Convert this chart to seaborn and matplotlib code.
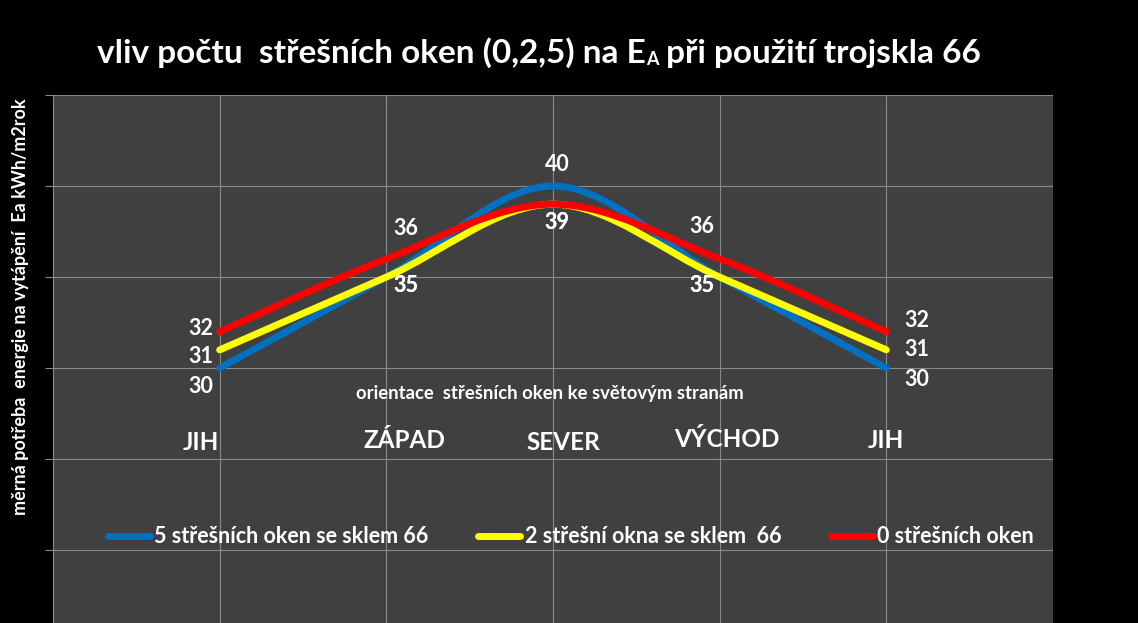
import numpy as np
import pandas as pd
import seaborn as sns
import matplotlib.pyplot as plt
from matplotlib.path import Path
from matplotlib.patches import PathPatch
from matplotlib.lines import Line2D

# data
categories = ["JIH", "ZÁPAD", "SEVER", "VÝCHOD", "JIH"]
okna5 = [30, 35, 40, 35, 30]
okna2 = [31, 35, 39, 35, 31]
okna0 = [32, 36, 39, 36, 32]
series_names = ["5 střešních oken se sklem 66", "2 střešní okna se sklem  66", "0 střešních oken"]

colors = ["#0070C0", "#FFFF00", "#FF0000"]

sns.set_theme(style="dark", rc={"axes.facecolor": "#404040", "figure.facecolor": "black",
                                "grid.color": "#8a8a8a", "grid.linewidth": 0.8})
plt.rcParams["font.family"] = ["Lato", "DejaVu Sans"]
plt.rcParams["font.weight"] = "bold"

df = pd.DataFrame({"pos": np.arange(1, 6), "kat": categories,
                   series_names[0]: okna5, series_names[1]: okna2, series_names[2]: okna0})

fig = plt.figure(figsize=(11.38, 6.23), dpi=100)
ax = fig.add_axes([53 / 1138, 0, 1000 / 1138, 528 / 623])


def smooth_path(xs, ys):
    # excel-like smoothed line: catmull-rom turned into cubic bezier segments
    pts = np.column_stack([xs, ys]).astype(float)
    ext = np.vstack([pts[0], pts, pts[-1]])
    verts = [pts[0]]
    codes = [Path.MOVETO]
    for i in range(len(pts) - 1):
        p0, p1, p2, p3 = ext[i], ext[i + 1], ext[i + 2], ext[i + 3]
        verts += [p1 + (p2 - p0) / 6, p2 - (p3 - p1) / 6, p2]
        codes += [Path.CURVE4] * 3
    return Path(verts, codes)


for name, col in zip(series_names, colors):
    patch = PathPatch(smooth_path(df["pos"], df[name]), facecolor="none", edgecolor=col,
                      lw=5, capstyle="round", joinstyle="round", zorder=3)
    ax.add_patch(patch)

# data labels (pixel offsets from the point)
label_offsets = {
    series_names[0]: [(-19, -18), (19, -8), (4, 22), (-18, -8), (30, -11)],
    series_names[1]: [(-19, -7), (19, -8), (4, -18), (-18, -8), (30, 0)],
    series_names[2]: [(-19, 3), (19, 30), (4, -18), (-18, 32), (30, 11)],
}
for name in series_names:
    for x, v, off in zip(df["pos"], df[name], label_offsets[name]):
        ax.annotate(str(v), (x, v), xytext=off, textcoords="offset pixels",
                    ha="center", va="center", color="white", fontsize=15.5,
                    fontweight="bold", zorder=4)

# category names inside the plot
cat_shift = [-0.11, 0.11, 0.06, 0.04, 0.0]
cat_y = [25.9, 26.0, 25.9, 26.1, 26.0]
for x, c, dx, cy in zip(df["pos"], df["kat"], cat_shift, cat_y):
    ax.text(x + dx, cy, c, ha="center", va="center", color="white", fontsize=17.5, fontweight="bold")

ax.text(2.98, 28.6, "orientace  střešních oken ke světovým stranám", ha="center", va="center",
        color="white", fontsize=13.3, fontweight="bold")

ax.set_xlim(0, 6)
ax.set_ylim(16, 45)
ax.set_xticks(range(0, 7))
ax.set_yticks(range(20, 46, 5))
ax.grid(True, axis="both")
ax.set_xticklabels([])
ax.set_yticklabels([])
ax.tick_params(axis="y", left=True, length=6, width=0.8, color="#8a8a8a", direction="out")
ax.tick_params(axis="x", bottom=False)
for s in ["top", "right", "bottom"]:
    ax.spines[s].set_visible(False)
ax.spines["left"].set_color("#8a8a8a")
ax.spines["left"].set_linewidth(0.8)

handles = [Line2D([], [], color=c, lw=5, solid_capstyle="round") for c in colors]
leg = ax.legend(handles, series_names, loc="center", bbox_to_anchor=(0.518, 0.163), ncol=3,
                frameon=False, fontsize=15.5, handlelength=1.95, handletextpad=0.2,
                columnspacing=2.3)
for t in leg.get_texts():
    t.set_color("white")
    t.set_fontweight("bold")

# y axis title
fig.text(21 / 1138, 1 - 307 / 623, "měrná potřeba  energie na vytápění  Ea kWh/m2rok", rotation=90,
         ha="center", va="center", color="white", fontsize=13, fontweight="bold")

# title with small A after E
t1 = fig.text(97 / 1138, 1 - 63 / 623, "vliv počtu  střešních oken (0,2,5) na E", ha="left",
              va="baseline", color="white", fontsize=24, fontweight="bold")
t2 = ax.annotate("A", xy=(1, 0), xycoords=t1, va="bottom", ha="left", color="white",
                 fontsize=13, fontweight="bold", annotation_clip=False)
t3 = ax.annotate(" při použití trojskla 66", xy=(1, 0), xycoords=t2, va="bottom", ha="left",
                 color="white", fontsize=24, fontweight="bold", annotation_clip=False)

fig.savefig("out.png", dpi=100, facecolor="black")
